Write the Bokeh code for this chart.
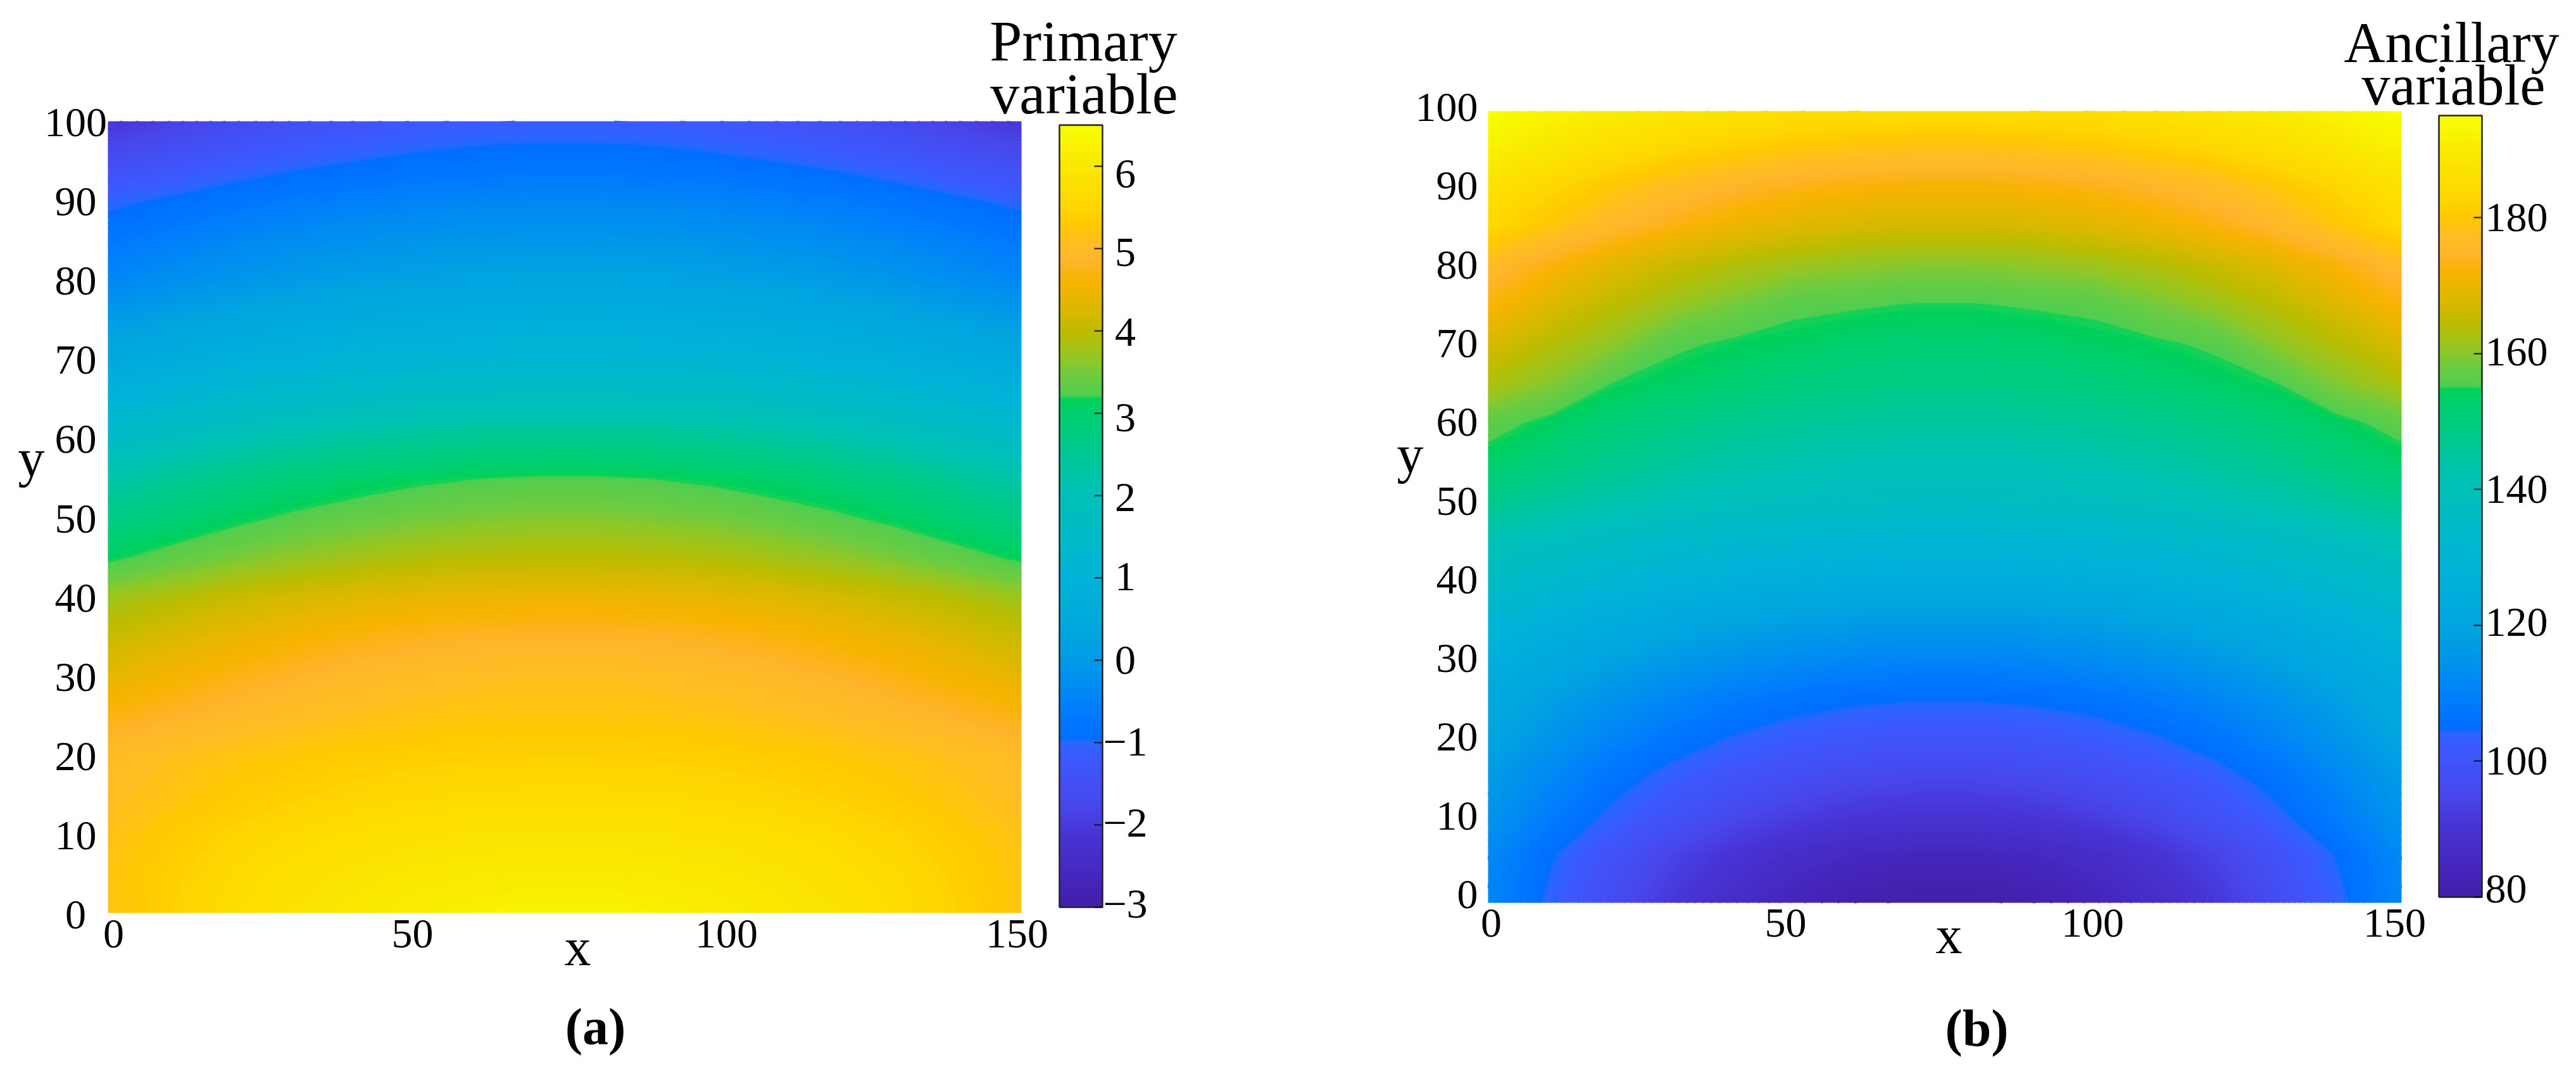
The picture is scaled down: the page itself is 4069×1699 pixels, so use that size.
import numpy as np
from bokeh.embed import file_html
from bokeh.layouts import row
from bokeh.models import ColorBar, FixedTicker, Label, LinearColorMapper, Range1d
from bokeh.plotting import figure
from bokeh.resources import INLINE

FONT = "Liberation Serif"

# every 10 in x (0..150), every 5 in y (0..100, bottom row first)
grid_x = [0, 10, 20, 30, 40, 50, 60, 70, 80, 90, 100, 110, 120, 130, 140, 150]
grid_y = [0, 5, 10, 15, 20, 25, 30, 35, 40, 45, 50, 55, 60, 65, 70, 75, 80, 85, 90, 95, 100]

primary_values = [
    [5.20, 5.46, 5.69, 5.87, 6.02, 6.13, 6.21, 6.25, 6.25, 6.21, 6.13, 6.02, 5.87, 5.69, 5.46, 5.20],
    [5.20, 5.42, 5.62, 5.78, 5.90, 6.00, 6.06, 6.10, 6.10, 6.06, 6.00, 5.90, 5.78, 5.62, 5.42, 5.20],
    [5.15, 5.34, 5.50, 5.63, 5.74, 5.82, 5.87, 5.90, 5.90, 5.87, 5.82, 5.74, 5.63, 5.50, 5.34, 5.15],
    [5.05, 5.20, 5.33, 5.43, 5.52, 5.58, 5.63, 5.65, 5.65, 5.63, 5.58, 5.52, 5.43, 5.33, 5.20, 5.05],
    [5.00, 5.11, 5.21, 5.29, 5.35, 5.40, 5.43, 5.45, 5.45, 5.43, 5.40, 5.35, 5.29, 5.21, 5.11, 5.00],
    [4.70, 4.84, 4.95, 5.05, 5.13, 5.19, 5.23, 5.25, 5.25, 5.23, 5.19, 5.13, 5.05, 4.95, 4.84, 4.70],
    [4.40, 4.57, 4.72, 4.85, 4.95, 5.02, 5.07, 5.10, 5.10, 5.07, 5.02, 4.95, 4.85, 4.72, 4.57, 4.40],
    [4.10, 4.29, 4.45, 4.58, 4.69, 4.77, 4.82, 4.85, 4.85, 4.82, 4.77, 4.69, 4.58, 4.45, 4.29, 4.10],
    [3.75, 3.94, 4.10, 4.23, 4.34, 4.42, 4.47, 4.50, 4.50, 4.47, 4.42, 4.34, 4.23, 4.10, 3.94, 3.75],
    [3.15, 3.36, 3.54, 3.69, 3.81, 3.91, 3.97, 4.00, 4.00, 3.97, 3.91, 3.81, 3.69, 3.54, 3.36, 3.15],
    [2.70, 2.92, 3.12, 3.28, 3.40, 3.50, 3.56, 3.60, 3.60, 3.56, 3.50, 3.40, 3.28, 3.12, 2.92, 2.70],
    [2.25, 2.50, 2.71, 2.89, 3.03, 3.14, 3.21, 3.25, 3.25, 3.21, 3.14, 3.03, 2.89, 2.71, 2.50, 2.25],
    [1.60, 1.85, 2.06, 2.24, 2.38, 2.49, 2.56, 2.60, 2.60, 2.56, 2.49, 2.38, 2.24, 2.06, 1.85, 1.60],
    [1.00, 1.21, 1.39, 1.54, 1.66, 1.76, 1.82, 1.85, 1.85, 1.82, 1.76, 1.66, 1.54, 1.39, 1.21, 1.00],
    [0.50, 0.67, 0.82, 0.95, 1.05, 1.12, 1.17, 1.20, 1.20, 1.17, 1.12, 1.05, 0.95, 0.82, 0.67, 0.50],
    [0.05, 0.22, 0.37, 0.50, 0.60, 0.67, 0.72, 0.75, 0.75, 0.72, 0.67, 0.60, 0.50, 0.37, 0.22, 0.05],
    [-0.40, -0.23, -0.08, 0.05, 0.15, 0.22, 0.27, 0.30, 0.30, 0.27, 0.22, 0.15, 0.05, -0.08, -0.23, -0.40],
    [-0.70, -0.54, -0.40, -0.28, -0.19, -0.12, -0.08, -0.05, -0.05, -0.08, -0.12, -0.19, -0.28, -0.40, -0.54, -0.70],
    [-1.05, -0.89, -0.75, -0.63, -0.54, -0.47, -0.43, -0.40, -0.40, -0.43, -0.47, -0.54, -0.63, -0.75, -0.89, -1.05],
    [-1.57, -1.38, -1.20, -1.06, -0.96, -0.88, -0.82, -0.80, -0.80, -0.82, -0.88, -0.96, -1.06, -1.20, -1.38, -1.57],
    [-2.10, -1.90, -1.68, -1.50, -1.36, -1.25, -1.18, -1.15, -1.15, -1.18, -1.25, -1.36, -1.50, -1.68, -1.90, -2.10],
]

ancillary_values = [
    [111, 103.3, 96.7, 91.2, 86.8, 83.4, 81.2, 80.1, 80.1, 81.2, 83.4, 86.8, 91.2, 96.7, 103.3, 111],
    [112, 105, 99.1, 94.1, 90.1, 87.1, 85.1, 84.1, 84.1, 85.1, 87.1, 90.1, 94.1, 99.1, 105, 112],
    [115, 108.8, 103.5, 99, 95.5, 92.8, 91, 90.1, 90.1, 91, 92.8, 95.5, 99, 103.5, 108.8, 115],
    [117, 111.5, 106.8, 102.9, 99.8, 97.4, 95.9, 95.1, 95.1, 95.9, 97.4, 99.8, 102.9, 106.8, 111.5, 117],
    [120, 115, 110.8, 107.2, 104.4, 102.2, 100.8, 100.1, 100.1, 100.8, 102.2, 104.4, 107.2, 110.8, 115, 120],
    [122.5, 118.1, 114.4, 111.3, 108.8, 106.9, 105.7, 105.1, 105.1, 105.7, 106.9, 108.8, 111.3, 114.4, 118.1, 122.5],
    [126, 122.3, 119.1, 116.4, 114.3, 112.7, 111.6, 111.1, 111.1, 111.6, 112.7, 114.3, 116.4, 119.1, 122.3, 126],
    [130.5, 127.1, 124.3, 121.9, 119.9, 118.5, 117.5, 117.1, 117.1, 117.5, 118.5, 119.9, 121.9, 124.3, 127.1, 130.5],
    [136, 133, 130.5, 128.3, 126.6, 125.3, 124.5, 124, 124, 124.5, 125.3, 126.6, 128.3, 130.5, 133, 136],
    [141.5, 138.6, 136.2, 134.1, 132.5, 131.3, 130.5, 130, 130, 130.5, 131.3, 132.5, 134.1, 136.2, 138.6, 141.5],
    [148, 145.3, 142.9, 141, 139.4, 138.2, 137.4, 137, 137, 137.4, 138.2, 139.4, 141, 142.9, 145.3, 148],
    [153.5, 150.4, 147.7, 145.5, 143.7, 142.4, 141.5, 141.1, 141.1, 141.5, 142.4, 143.7, 145.5, 147.7, 150.4, 153.5],
    [157, 154, 151.5, 149.3, 147.6, 146.3, 145.5, 145, 145, 145.5, 146.3, 147.6, 149.3, 151.5, 154, 157],
    [163.5, 159.9, 155.2, 153.6, 152.2, 150.6, 149.6, 149.1, 149.1, 149.6, 150.6, 152.2, 153.6, 155.2, 159.9, 163.5],
    [168, 164, 160.6, 156, 154.6, 153.8, 152.6, 152.1, 152.1, 152.6, 153.8, 154.6, 156, 160.6, 164, 168],
    [173, 168.5, 164.7, 161.5, 158.9, 156.2, 155.7, 155.1, 155.1, 155.7, 156.2, 158.9, 161.5, 164.7, 168.5, 173],
    [177, 172.8, 169.1, 166.1, 163.7, 161.9, 160.7, 160.1, 160.1, 160.7, 161.9, 163.7, 166.1, 169.1, 172.8, 177],
    [184, 179.8, 176.1, 173.1, 170.7, 168.9, 167.7, 167.1, 167.1, 167.7, 168.9, 170.7, 173.1, 176.1, 179.8, 184],
    [187, 183.3, 180.1, 177.4, 175.3, 173.7, 172.6, 172.1, 172.1, 172.6, 173.7, 175.3, 177.4, 180.1, 183.3, 187],
    [192, 188.8, 186, 183.7, 181.8, 180.4, 179.5, 179.1, 179.1, 179.5, 180.4, 181.8, 183.7, 186, 188.8, 192],
    [195, 192.5, 190.4, 188.6, 187.2, 186.1, 185.4, 185, 185, 185.4, 186.1, 187.2, 188.6, 190.4, 192.5, 195],
]

x_ticks = [0, 50, 100, 150]
y_ticks = [0, 10, 20, 30, 40, 50, 60, 70, 80, 90, 100]
primary_ticks = [6, 5, 4, 3, 2, 1, 0, -1, -2, -3]
ancillary_ticks = [180, 160, 140, 120, 100, 80]

# colormap stops as (fraction of the bar, colour), bottom to top
cmap_pos = [0, .04, .09, .13, .19, .21, .215, .24, .29, .34, .42, .53, .63, .651, .654, .68, .70, .735,
            .77, .80, .825, .85, .875, .90, .95, 1]
cmap_col = ["#4220a8", "#4628c0", "#4834d4", "#4848ec", "#3c5aff", "#2c66ff", "#006eff", "#0078ff", "#0090f0",
            "#00a4e0", "#00b4d8", "#00c2b8", "#00d070", "#00d258", "#52ce50", "#6ccc42", "#90c828", "#bdbd00",
            "#e0b800", "#f8b400", "#ffb52a", "#ffbe22", "#ffcb00", "#ffd800", "#fae900", "#f8ff00"]


def build_palette(n=512):
    rgb = np.array([[int(c[i:i + 2], 16) for i in (1, 3, 5)] for c in cmap_col], dtype=float)
    t = np.linspace(0, 1, n)
    channels = [np.interp(t, cmap_pos, rgb[:, k]) for k in range(3)]
    return ["#%02x%02x%02x" % (int(r), int(g), int(b)) for r, g, b in zip(*channels)]


PALETTE = build_palette()
PAGE_BOTTOM = 1680


def pick(frac):
    return PALETTE[min(511, max(0, int(frac * 511)))]


class Panel:
    # the frame fills the whole canvas so that no text outside the field gets clipped
    def __init__(self, values, low, high, canvas_left, canvas_right, x_zero, x_step, y_zero, y_step, box):
        self.left = canvas_left
        self.p = figure(width=canvas_right - canvas_left, height=1680, output_backend="svg", toolbar_location=None,
                        x_axis_location=None, y_axis_location=None, min_border=0,
                        x_range=Range1d((canvas_left - x_zero) / x_step, (canvas_right - x_zero) / x_step),
                        y_range=Range1d((y_zero - PAGE_BOTTOM) / y_step, y_zero / y_step))
        self.p.outline_line_color = None
        self.p.grid.visible = False
        self.x_zero, self.x_step, self.y_zero, self.y_step = x_zero, x_step, y_zero, y_step
        self.mapper = LinearColorMapper(palette=PALETTE, low=low, high=high)
        # outer grid lines go out to the edge of the dotted field
        xs = np.array(grid_x, dtype=float)
        ys = np.array(grid_y, dtype=float)
        xs[0], xs[-1] = (box[0] - x_zero) / x_step, (box[1] - x_zero) / x_step
        ys[0], ys[-1] = (y_zero - box[3]) / y_step, (y_zero - box[2]) / y_step
        levels = np.linspace(low, high, 192)
        span = high - low
        fills = [pick(((a + b) / 2 - low) / span) for a, b in zip(levels[:-1], levels[1:])]
        lines = [pick((lv - low) / span) for lv in levels]
        self.p.contour(xs, ys, np.array(values, dtype=float), levels, fill_color=fills, line_color=lines, line_width=2)

    def text(self, px, py, text, size=66, align="center", baseline="alphabetic", style="normal"):
        if baseline == "alphabetic":
            # bokeh puts these labels a little lower than the asked point
            py = py - 27
        self.p.add_layout(Label(x=px - self.left, y=PAGE_BOTTOM - py, x_units="screen", y_units="screen", text=text,
                                text_font=FONT, text_font_size="%dpx" % size, text_align=align,
                                text_baseline=baseline, text_font_style=style, text_color="black"))

    def x_tick_labels(self, baseline, shifts):
        for t, dx in zip(x_ticks, shifts):
            self.text(self.x_zero + t * self.x_step + dx, baseline, str(t))

    def y_tick_labels(self, px, align):
        for t in y_ticks:
            self.text(px, self.y_zero - t * self.y_step, str(t), align=align, baseline="middle")

    def colorbar(self, ticks, left, bottom, width, height):
        bar = ColorBar(color_mapper=self.mapper, ticker=FixedTicker(ticks=ticks),
                       location=(left - self.left, PAGE_BOTTOM - bottom), width=width, height=height,
                       padding=0, margin=0, bar_line_color="#222222", bar_line_width=2.5,
                       border_line_color=None, background_fill_color=None, major_tick_in=13, major_tick_out=0,
                       major_tick_line_color="#111111", major_tick_line_width=2, minor_tick_line_color=None,
                       major_label_overrides={t: "" for t in ticks}, major_label_text_font_size="1px")
        self.p.add_layout(bar, "center")


# (a) dotted field spans page x 170..1613, y 191..1441
pa = Panel(primary_values, -3, 6.5, 0, 2032, 176, 9.54, 1444, 12.51, (170, 1613, 191, 1441))
pa.x_tick_labels(1501, [3, -2, 17, -1])
pa.y_tick_labels(119, "center")
pa.colorbar(primary_ticks, 1673, 1432, 68, 1235)
primary_dy = [12, 6, 2, 7, 3, -2, 0, -1, -3, -5]
for t, dy in zip(primary_ticks, primary_dy):
    pa.text(1777, 262 + (6 - t) * 130 + dy, str(t).replace("-", "\u2212"), baseline="middle")
pa.text(1711, 91, "Primary", 92)
pa.text(1712, 174, "variable", 92)
pa.text(912, 1522, "x", 84)
pa.text(49, 750, "y", 84)
pa.text(940, 1648, "(a)", 82, style="bold")

# (b) dotted field spans page x 2350..3793, y 175..1425
pb = Panel(ancillary_values, 80, 195, 2032, 4052, 2356, 9.54, 1412, 12.43, (2350, 3793, 175, 1425))
pb.x_tick_labels(1484, [-1, -13, -5, -5])
pb.y_tick_labels(2334, "right")
pb.colorbar(ancillary_ticks, 3852, 1416, 68, 1234)
ancillary_dy = [0, -3, 0, -5, 0, -13]
for t, dy in zip(ancillary_ticks, ancillary_dy):
    pb.text(3925, 343 + (180 - t) * 10.73 + dy, str(t), align="left", baseline="middle")
pb.text(3872, 94, "Ancillary", 90)
pb.text(3875, 161, "variable", 90)
pb.text(3078, 1503, "x", 84)
pb.text(2227, 744, "y", 84)
pb.text(3122, 1650, "(b)", 82, style="bold")

page = row(pa.p, pb.p)
open("out.html", "w").write(file_html(page, INLINE))
